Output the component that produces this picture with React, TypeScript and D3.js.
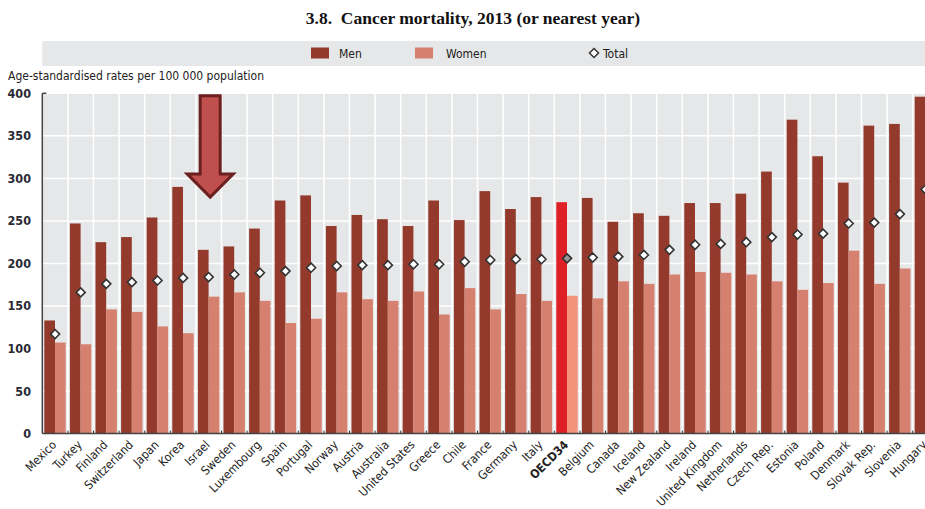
import React from 'react';
import * as d3 from 'd3';

const countries = ['Mexico','Turkey','Finland','Switzerland','Japan','Korea','Israel','Sweden','Luxembourg','Spain','Portugal','Norway','Austria','Australia','United States','Greece','Chile','France','Germany','Italy','OECD34','Belgium','Canada','Iceland','New Zealand','Ireland','United Kingdom','Netherlands','Czech Rep.','Estonia','Poland','Denmark','Slovak Rep.','Slovenia','Hungary'];
const men = [133,247,225,231,254,290,216,220,241,274,280,244,257,252,244,274,251,285,264,278,272,277,249,259,256,271,271,282,308,369,326,295,362,364,396];
const women = [107,105,146,143,126,118,161,166,156,130,135,166,158,156,167,140,171,146,164,156,162,159,179,176,187,190,189,187,179,169,177,215,176,194,220];
const total = [117,166,176,178,180,183,184,187,189,191,195,197,198,198,199,199,202,204,205,205,206,207,208,210,216,222,223,225,231,234,235,247,248,258,287];
const yTicks = [0,50,100,150,200,250,300,350,400];
const highlight = 'Israel';
const average = 'OECD34';

const W = 925, H = 509;
const left = 42.3, top = 93.3, bottom = 433.6;
const narrow = '"Liberation Sans Narrow", "DejaVu Sans Condensed", "Roboto", sans-serif';

export default function App() {
  const x = d3.scaleBand<string>().domain(countries).range([left, left + 35 * 25.6]).padding(0);
  const sub = d3.scaleBand<string>().domain(['Men', 'Women']).range([2, x.bandwidth() - 2.2]).padding(0);
  const y = d3.scaleLinear().domain([0, 400]).range([bottom, top]);
  const diamond = d3.symbol().type(d3.symbolDiamond2).size(52)();

  const ax = (x(highlight) as number) + x.bandwidth() / 2 + 1.5;

  return (
    <svg width={W} height={H} style={{ position: 'absolute', left: 0, top: 0, background: '#fff' }}>
      <defs>
        <clipPath id="clip"><rect x={0} y={0} width={W} height={H} /></clipPath>
      </defs>
      <text x={473} y={24} textAnchor="middle" fontFamily='"Liberation Serif", "DejaVu Serif", serif' fontWeight="bold" fontSize={17.5} fill="#111" style={{ whiteSpace: 'pre' }}>
        {'3.8.\u00a0\u00a0Cancer mortality, 2013 (or nearest year)'}
      </text>

      {/* legend */}
      <rect x={left} y={41} width={W - left} height={25} fill="#e6e7e8" />
      <rect x={311} y={47.5} width={18} height={11} fill="#943a2d" />
      <text x={339} y={57.5} fontFamily={narrow} fontSize={12} fill="#222">Men</text>
      <rect x={415} y={47.5} width={18} height={11} fill="#d6806f" />
      <text x={446} y={57.5} fontFamily={narrow} fontSize={12} fill="#222">Women</text>
      <path d={diamond} transform="translate(594,53)" fill="#fff" stroke="#333" strokeWidth={1.5} />
      <text x={603} y={57.5} fontFamily={narrow} fontSize={12} fill="#222">Total</text>

      <text x={8} y={80} fontFamily={narrow} fontSize={12} fill="#222">Age-standardised rates per 100 000 population</text>

      <g clipPath="url(#clip)">
        <rect x={left} y={top} width={x.range()[1] - left} height={bottom - top} fill="#e6e7e8" />
        {yTicks.map(t => (
          <line key={t} x1={left} x2={x.range()[1]} y1={y(t)} y2={y(t)} stroke="#fff" strokeWidth={1.5} />
        ))}
        {countries.map(c => (
          <line key={c} x1={(x(c) as number) + x.bandwidth()} x2={(x(c) as number) + x.bandwidth()} y1={top} y2={bottom} stroke="#fff" strokeWidth={1.5} />
        ))}
        {countries.map((c, i) => {
          const bx = x(c) as number;
          const isAvg = c === average;
          return (
            <g key={c}>
              <rect x={bx + (sub('Men') as number)} y={y(men[i])} width={sub.bandwidth()} height={bottom - y(men[i])} fill={isAvg ? '#de1f26' : '#943a2d'} />
              <rect x={bx + (sub('Women') as number)} y={y(women[i])} width={sub.bandwidth()} height={bottom - y(women[i])} fill={isAvg ? '#f4937a' : '#d6806f'} />
            </g>
          );
        })}
        {countries.map((c, i) => (
          <path key={c} d={diamond} transform={`translate(${(x(c) as number) + x.bandwidth() / 2},${y(total[i])})`}
            fill={c === average ? '#9a9a9a' : '#fff'} stroke="#333" strokeWidth={1.6} />
        ))}
        {countries.map(c => (
          <line key={c} x1={(x(c) as number) + x.bandwidth()} x2={(x(c) as number) + x.bandwidth()} y1={bottom - 3} y2={bottom} stroke="#333" strokeWidth={1} />
        ))}
        <line x1={left} x2={x.range()[1]} y1={bottom} y2={bottom} stroke="#444" strokeWidth={1.5} />
      </g>
      <line x1={left} x2={left} y1={top} y2={bottom} stroke="#444" strokeWidth={1.5} />
      <line x1={left} x2={left + 4} y1={top} y2={top} stroke="#444" strokeWidth={1.5} />

      {yTicks.map(t => (
        <text key={t} x={31} y={y(t) + 4.5} textAnchor="end" fontFamily={narrow} fontWeight="bold" fontSize={12.5} fill="#2a2a35">{t}</text>
      ))}

      {countries.map(c => {
        const cx = (x(c) as number) + x.bandwidth() / 2 + 2;
        return (
          <text key={c} transform={`translate(${cx},${bottom + 12}) rotate(-45)`} textAnchor="end"
            fontFamily={narrow} fontSize={12} fontWeight={c === average ? 'bold' : 'normal'} fill="#222">{c}</text>
        );
      })}

      {/* arrow annotation */}
      <path d={`M${ax - 10},${y(397)} L${ax + 10},${y(397)} L${ax + 10},${y(305)} L${ax + 23},${y(305)} L${ax},${y(278)} L${ax - 23},${y(305)} L${ax - 10},${y(305)} Z`}
        fill="#c0504d" stroke="#6b1f1f" strokeWidth={3} strokeLinejoin="miter" />
    </svg>
  );
}
